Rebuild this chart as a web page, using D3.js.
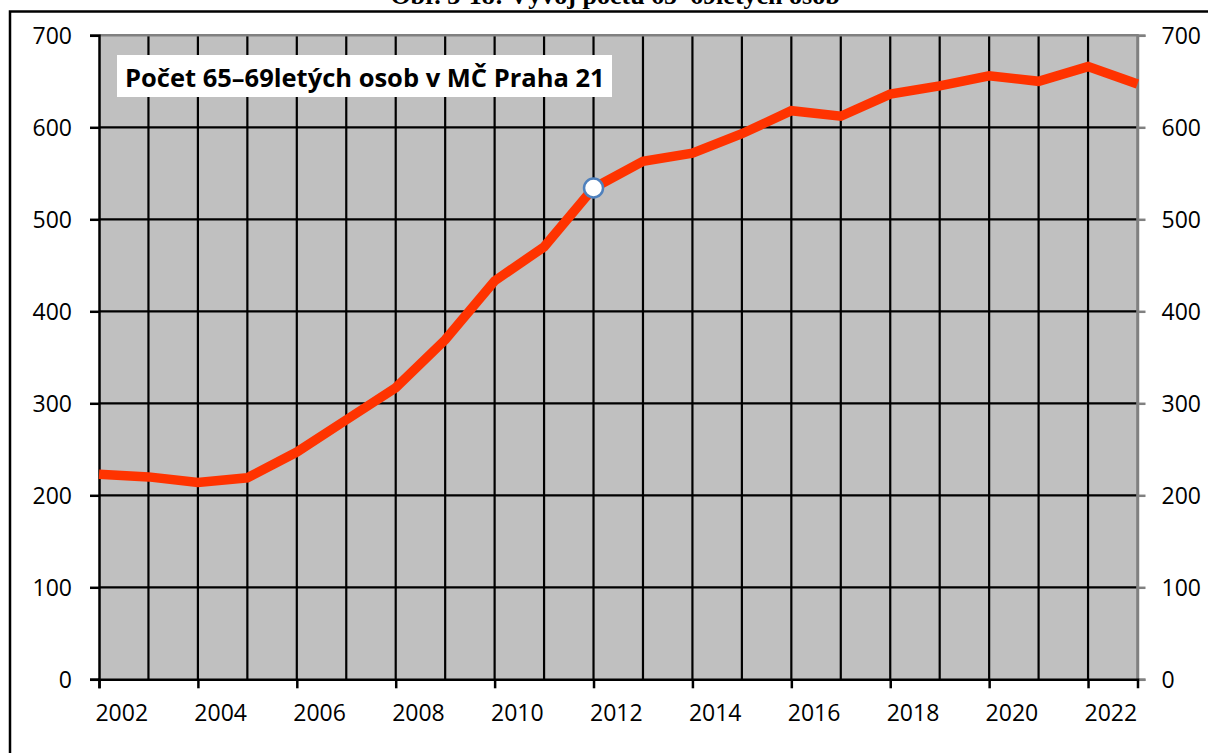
<!DOCTYPE html>
<html>
<head>
<meta charset="utf-8">
<script src="https://cdn.jsdelivr.net/npm/d3@7"></script>
<style>
    body { margin: 0; background: #fff; }
    svg { display: block; }
    .axis-label { font-family: "Open Sans", sans-serif; font-size: 23px; fill: #000; }
</style>
</head>
<body>
<div id="chart"></div>
<script>
const years = [2002, 2003, 2004, 2005, 2006, 2007, 2008, 2009, 2010, 2011, 2012,
    2013, 2014, 2015, 2016, 2017, 2018, 2019, 2020, 2021, 2022, 2023];
const counts = [223, 220, 214, 219, 247, 282, 317, 369, 433, 470, 534,
    563, 572, 593, 618, 612, 636, 645, 656, 650, 666, 647];
const yTicks = [0, 100, 200, 300, 400, 500, 600, 700];
const xLabelYears = [2002, 2004, 2006, 2008, 2010, 2012, 2014, 2016, 2018, 2020, 2022];
const highlightYear = 2012;
const caption = "Obr. 3-18: Vývoj počtu 65–69letých osob";
const seriesTitle = "Počet 65–69letých osob v MČ Praha 21";

(function drawChart() {
    const width = 1208;
    const height = 753;
    const plot = { left: 99, right: 1137.5, top: 35.3, bottom: 679.3 };

    const x = d3.scaleLinear().domain([2002, 2023]).range([plot.left, plot.right]);
    const y = d3.scaleLinear().domain([0, 700]).range([plot.bottom, plot.top]);

    const svg = d3.select("#chart").append("svg")
        .attr("width", width)
        .attr("height", height);

    // caption, only its lower part is inside the page (as in the scan)
    svg.append("text")
        .attr("x", 615)
        .attr("y", 4)
        .attr("text-anchor", "middle")
        .style("font-family", "'Liberation Serif', serif")
        .style("font-weight", "bold")
        .style("font-size", "26px")
        .text(caption);

    // outer frame
    svg.append("path")
        .attr("d", `M10,${height + 5}V11.5H${width + 5}`)
        .attr("fill", "none")
        .attr("stroke", "#000")
        .attr("stroke-width", 2.5);

    svg.append("rect")
        .attr("x", plot.left)
        .attr("y", plot.top)
        .attr("width", plot.right - plot.left)
        .attr("height", plot.bottom - plot.top)
        .attr("fill", "#c0c0c0");

    // grid
    const grid = svg.append("g").attr("stroke", "#000").attr("stroke-width", 2.2);
    grid.selectAll(".hgrid")
        .data(yTicks.filter(v => v > 0 && v < 700))
        .join("line")
        .attr("x1", plot.left).attr("x2", plot.right)
        .attr("y1", d => y(d)).attr("y2", d => y(d));
    grid.selectAll(".vgrid")
        .data(years.filter(v => v > 2002 && v < 2023))
        .join("line")
        .attr("x1", d => x(d)).attr("x2", d => x(d))
        .attr("y1", plot.top).attr("y2", plot.bottom);

    // plot border (top + right) in grey
    svg.append("path")
        .attr("d", `M${plot.left},${plot.top}H${plot.right}V${plot.bottom}`)
        .attr("fill", "none")
        .attr("stroke", "#808080")
        .attr("stroke-width", 2.5);

    // left axis
    const leftAxis = svg.append("g")
        .attr("transform", `translate(${plot.left},0)`)
        .call(d3.axisLeft(y).tickValues(yTicks).tickSize(9).tickPadding(18));
    leftAxis.select(".domain").attr("stroke", "#000").attr("stroke-width", 2.5);
    leftAxis.selectAll(".tick line").attr("stroke", "#000").attr("stroke-width", 2.5);
    leftAxis.selectAll(".tick text").attr("class", "axis-label").attr("dy", "0.36em");

    // right axis
    const rightAxis = svg.append("g")
        .attr("transform", `translate(${plot.right},0)`)
        .call(d3.axisRight(y).tickValues(yTicks).tickSize(8).tickPadding(16));
    rightAxis.select(".domain").attr("stroke", "#808080").attr("stroke-width", 2.5);
    rightAxis.selectAll(".tick line").attr("stroke", "#808080").attr("stroke-width", 2.5);
    rightAxis.selectAll(".tick text").attr("class", "axis-label").attr("dy", "0.36em");

    // bottom axis, labels sit a bit right of their tick
    const labelShift = (x(2003) - x(2002)) * 0.45;
    const bottomAxis = svg.append("g")
        .attr("transform", `translate(0,${plot.bottom})`)
        .call(d3.axisBottom(x).tickValues(xLabelYears).tickFormat(d3.format("d"))
            .tickSize(9).tickPadding(16));
    bottomAxis.select(".domain").attr("stroke", "#000").attr("stroke-width", 2.5);
    bottomAxis.selectAll(".tick line").attr("stroke", "#000").attr("stroke-width", 2.5);
    bottomAxis.selectAll(".tick text").attr("class", "axis-label").attr("x", labelShift);

    // series
    const points = years.map((yr, i) => ({ year: yr, value: counts[i] }));
    const line = d3.line().x(d => x(d.year)).y(d => y(d.value));
    svg.append("path")
        .datum(points)
        .attr("d", line)
        .attr("fill", "none")
        .attr("stroke", "#ff3300")
        .attr("stroke-width", 9.5)
        .attr("stroke-linejoin", "miter");

    const marked = points.find(d => d.year === highlightYear);
    svg.append("circle")
        .attr("cx", x(marked.year))
        .attr("cy", y(marked.value))
        .attr("r", 9.5)
        .attr("fill", "#fff")
        .attr("stroke", "#4f81bd")
        .attr("stroke-width", 2.5);

    // series title box
    const titleG = svg.append("g");
    titleG.append("rect")
        .attr("x", 117)
        .attr("y", 55)
        .attr("width", 495)
        .attr("height", 42)
        .attr("fill", "#fff");
    titleG.append("text")
        .attr("x", 125)
        .attr("y", 86.5)
        .style("font-family", "'Open Sans', sans-serif")
        .style("font-weight", "bold")
        .style("font-size", "25.5px")
        .text(seriesTitle);
}());
</script>
</body>
</html>
